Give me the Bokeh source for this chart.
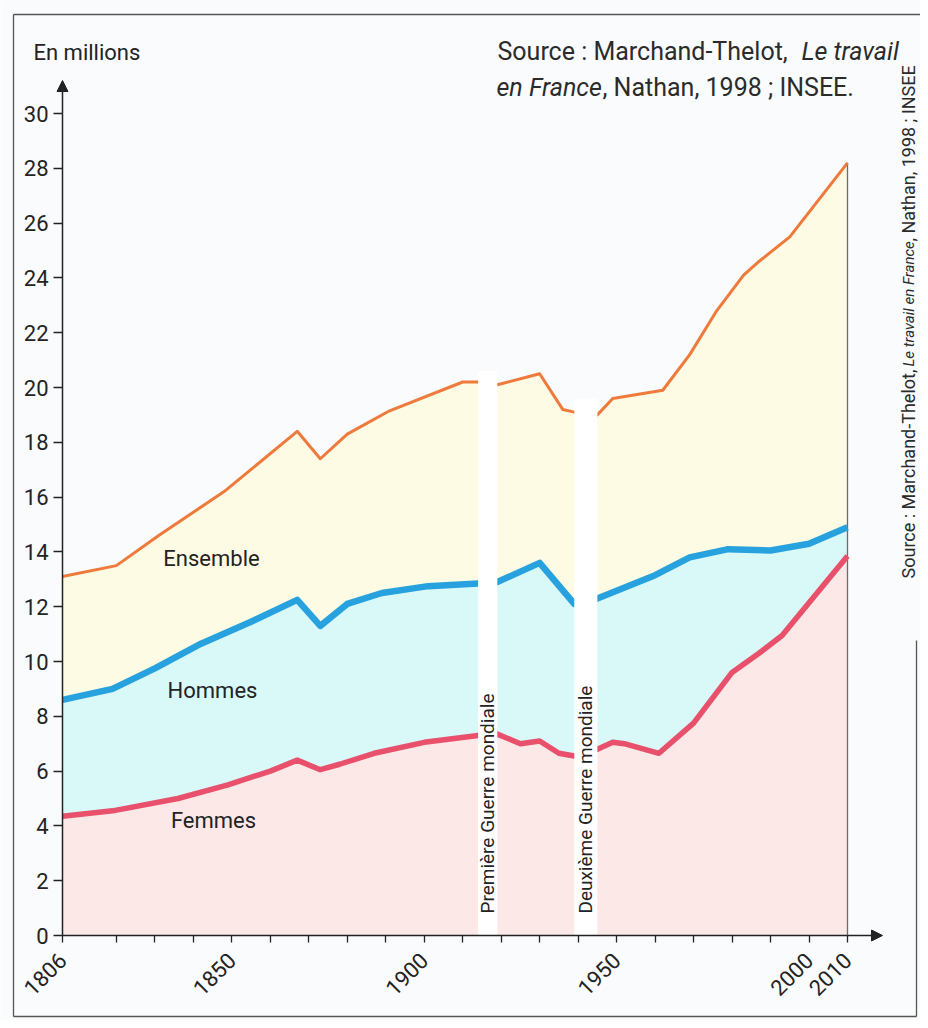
import math
from bokeh.plotting import figure
from bokeh.models import Range1d, LinearAxis, FixedTicker, Label, Arrow, NormalHead
from bokeh.embed import file_html
from bokeh.resources import INLINE

# ---------------- data (millions of workers) ----------------
ens_years = [1806, 1820, 1831, 1848, 1867, 1873, 1880, 1891, 1910, 1914, 1919, 1930,
             1936, 1939, 1945, 1949, 1962, 1969, 1976, 1983, 1987, 1995, 2010]
ens_vals = [13.1, 13.5, 14.6, 16.2, 18.4, 17.4, 18.3, 19.15, 20.2, 20.2, 20.1, 20.5,
            19.2, 19.1, 19.0, 19.6, 19.9, 21.2, 22.8, 24.1, 24.6, 25.5, 28.2]

hom_years = [1806, 1819, 1830, 1842, 1855, 1867, 1873, 1880, 1889, 1901, 1914, 1919,
             1930, 1939, 1945, 1960, 1969, 1979, 1990, 2000, 2010]
hom_vals = [8.6, 9.0, 9.75, 10.65, 11.45, 12.25, 11.3, 12.1, 12.5, 12.75, 12.85, 12.9,
            13.6, 12.1, 12.3, 13.15, 13.8, 14.1, 14.05, 14.3, 14.9]

fem_years = [1806, 1819, 1836, 1849, 1860, 1867, 1873, 1878, 1887, 1900, 1914, 1919,
             1925, 1930, 1935, 1939, 1945, 1949, 1952, 1961, 1970, 1980, 1987, 1993, 2010]
fem_vals = [4.35, 4.55, 5.0, 5.5, 6.0, 6.4, 6.05, 6.25, 6.65, 7.05, 7.3, 7.35,
            7.0, 7.1, 6.65, 6.55, 6.8, 7.05, 7.0, 6.65, 7.75, 9.6, 10.3, 10.95, 13.85]

war_starts = [1914, 1939]
war_ends = [1919, 1945]
war_names = ["Première Guerre mondiale", "Deuxième Guerre mondiale"]

x_major_ticks = [1806, 1850, 1900, 1950, 2000, 2010]
x_minor_ticks = [1820, 1830, 1840, 1860, 1870, 1880, 1890, 1910, 1920, 1930, 1940,
                 1960, 1970, 1980, 1990]
y_ticks = [0, 2, 4, 6, 8, 10, 12, 14, 16, 18, 20, 22, 24, 26, 28, 30]

# ---------------- geometry ----------------
W, H = 920, 1020
SX = 3.848     # px per year
SY = 27.4      # px per million
X0 = 1806 - 62 / SX
X1 = X0 + W / SX
Y1 = 30 + 113 / SY
Y0 = Y1 - H / SY


def px2x(px):
    return X0 + px / SX


def py2y(py):
    return Y1 - py / SY


TXT = "#232323"

p = figure(width=W, height=H, x_range=Range1d(X0, X1), y_range=Range1d(Y0, Y1),
           x_axis_type=None, y_axis_type=None, output_backend="svg",
           toolbar_location=None, min_border=0)
p.background_fill_color = "#F9FBFC"
p.border_fill_color = "#F9FBFC"
p.outline_line_color = None

# page frame (top, left, bottom, lower part of right side)
p.segment(x0=[px2x(13), px2x(13), px2x(13), px2x(916)],
          y0=[py2y(14), py2y(14), py2y(1016), py2y(640)],
          x1=[px2x(928), px2x(13), px2x(916), px2x(916)],
          y1=[py2y(14), py2y(1016), py2y(1016), py2y(1016)],
          line_color="#555555", line_width=1.3)

# areas
p.varea(x=ens_years, y1=0, y2=ens_vals, fill_color="#FDFBE3")
p.varea(x=hom_years, y1=0, y2=hom_vals, fill_color="#D9F8F8")
p.varea(x=fem_years, y1=0, y2=fem_vals, fill_color="#FBE8E7")

# right edge of the areas
p.segment(x0=[ens_years[-1]], y0=[0], x1=[ens_years[-1]], y1=[ens_vals[-1]],
          line_color="#6d6d6d", line_width=1.3)

# lines
p.line(ens_years, ens_vals, line_color="#EE7A3C", line_width=3, line_join="round")
p.line(hom_years, hom_vals, line_color="#27A2DE", line_width=6.5, line_join="round")
p.line(fem_years, fem_vals, line_color="#E8506B", line_width=5.5, line_join="round")

# war bands
p.quad(left=war_starts, right=war_ends, bottom=[0, 0], top=[20.6, 19.6],
       fill_color="#FFFFFF", line_color=None)
for a, b, name in zip(war_starts, war_ends, war_names):
    p.add_layout(Label(x=(a + b) / 2, y=0.8, text=name, angle=math.pi / 2,
                       text_align="left", text_baseline="middle",
                       text_font="Roboto", text_font_size="19px", text_color=TXT))

# series labels
for txt, px, py in [("Ensemble", 211, 558), ("Hommes", 212, 690), ("Femmes", 213, 820)]:
    p.add_layout(Label(x=px2x(px), y=py2y(py), text=txt, text_align="center",
                       text_baseline="middle", text_font="Roboto",
                       text_font_size="22px", text_color=TXT))

# axes
xaxis = LinearAxis(fixed_location=0,
                   ticker=FixedTicker(ticks=x_major_ticks, minor_ticks=x_minor_ticks),
                   bounds=(1806, 2010))
xaxis.major_label_orientation = math.pi / 4
xaxis.major_tick_in = 0
xaxis.major_tick_out = 7
xaxis.minor_tick_in = 0
xaxis.minor_tick_out = 7
xaxis.major_label_standoff = 14
p.add_layout(xaxis, "below")

yaxis = LinearAxis(fixed_location=1806, ticker=FixedTicker(ticks=y_ticks), bounds=(0, 30))
yaxis.major_tick_in = 0
yaxis.major_tick_out = 9
yaxis.major_label_standoff = 5
p.add_layout(yaxis, "left")

for ax in (xaxis, yaxis):
    ax.axis_line_color = "#222222"
    ax.axis_line_width = 1.5
    ax.major_tick_line_color = "#222222"
    ax.major_tick_line_width = 1.3
    ax.minor_tick_line_color = "#222222" if ax is xaxis else None
    ax.minor_tick_line_width = 1.3
    ax.major_label_text_font = "Roboto"
    ax.major_label_text_font_size = "22px"
    ax.major_label_text_color = TXT

# arrow heads
p.add_layout(Arrow(end=NormalHead(size=11, fill_color="#222222", line_color="#222222"),
                   x_start=1806, y_start=30, x_end=1806, y_end=py2y(80),
                   line_color="#222222", line_width=1.5))
p.add_layout(Arrow(end=NormalHead(size=11, fill_color="#222222", line_color="#222222"),
                   x_start=2010, y_start=0, x_end=px2x(882), y_end=0,
                   line_color="#222222", line_width=1.5))

# texts
p.add_layout(Label(x=px2x(33), y=py2y(52), text="En millions", text_align="left",
                   text_baseline="middle", text_font="Roboto", text_font_size="22px",
                   text_color=TXT))

src_parts = [
    ("Source : Marchand-Thelot, ", "normal", 497, 51),
    ("Le travail", "italic", 801, 51),
    ("en France", "italic", 496, 87),
    (", Nathan, 1998 ; INSEE.", "normal", 602, 87),
]
for txt, style, px, py in src_parts:
    p.add_layout(Label(x=px2x(px), y=py2y(py), text=txt, text_align="left",
                       text_baseline="middle", text_font="Roboto", text_font_size="25px",
                       text_font_style=style, text_color="#2b2b2b"))

vert_parts = [
    ("Source : Marchand-Thelot, ", "normal", "18px", 578),
    ("Le travail en France", "italic", "15px", 366),
    (", Nathan, 1998 ; INSEE", "normal", "18px", 241),
]
for txt, style, size, py in vert_parts:
    p.add_layout(Label(x=px2x(908), y=py2y(py), text=txt, angle=math.pi / 2,
                       text_align="left", text_baseline="middle", text_font="Roboto",
                       text_font_size=size, text_font_style=style, text_color="#2b2b2b"))

open("out.html", "w").write(file_html(p, INLINE))
